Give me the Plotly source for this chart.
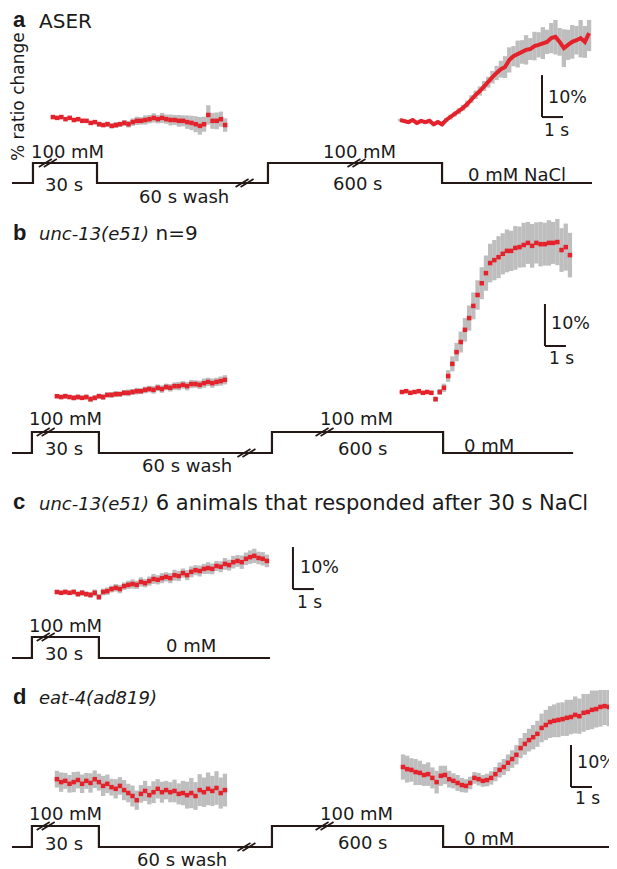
import numpy as np
import plotly.graph_objects as go

# ---------------- data ----------------
DT = 0.2  # s between samples

# panel a (ASER)
a_left_start = 2.52
a_left_val = [0.7, 0.5, 0.7, 0.2, 0.5, 0.0, 0.2, -0.2, -0.2, -0.7, -0.5, -1.0, -1.2, -1.0,
              -1.4, -1.2, -1.0, -0.7, -1.0, -0.5, -0.2, -0.2, 0.0, 0.2, 0.5, 0.2, 0.5, 0.2,
              0.0, 0.0, -0.2, -0.2, -0.5, -0.7, -1.0, -1.4, -1.0, 1.2, -0.2, -0.2, 0.2, -1.2]
a_left_err = [0.4, 0.4, 0.4, 0.4, 0.5, 0.4, 0.5, 0.5, 0.4, 0.5, 0.5, 0.6, 0.5, 0.6,
              0.6, 0.7, 0.6, 0.7, 0.8, 0.9, 1.0, 0.9, 1.1, 1.0, 1.1, 1.0, 1.2, 1.1,
              1.3, 1.2, 1.4, 1.3, 1.6, 1.7, 1.9, 2.1, 1.8, 2.3, 1.9, 2.0, 1.8, 1.6]
a_right_start = 19.05
a_right_val = [0.0, -0.2, -0.5, 0.0, -0.7, -0.2, -0.5, -0.2, -1.0, -0.5, -1.0, 0.0, 0.7, 1.4,
               2.1, 2.9, 3.8, 5.0, 6.0, 6.9, 8.1, 9.0, 10.2, 11.2, 12.1, 12.6, 14.3, 15.2,
               15.7, 16.2, 16.7, 16.9, 17.6, 17.9, 18.3, 18.6, 19.5, 19.8, 18.6, 17.1, 17.9,
               18.6, 19.0, 19.5, 18.6, 20.7]
a_right_err = [0.3, 0.3, 0.4, 0.3, 0.4, 0.3, 0.4, 0.4, 0.5, 0.4, 0.5, 0.5, 0.6, 0.6,
               0.7, 0.7, 0.8, 0.9, 1.0, 1.1, 1.2, 1.3, 1.5, 1.7, 2.0, 2.6, 3.0, 2.4,
               3.2, 2.8, 3.5, 2.6, 3.4, 3.0, 3.8, 2.9, 3.6, 4.2, 3.3, 4.5, 3.6, 4.0,
               3.4, 4.6, 3.8, 4.3]

# panel b (unc-13(e51) n=9)
b_left_start = 2.71
b_left_val = [-1.0, -1.2, -1.0, -1.2, -1.4, -1.2, -1.4, -1.2, -1.7, -1.4, -1.0, -1.2, -0.7,
              -0.7, -0.5, -0.5, -0.2, -0.2, 0.0, 0.2, 0.2, 0.5, 0.7, 0.5, 1.0, 0.7, 1.2, 1.0,
              1.4, 1.4, 1.7, 1.4, 1.9, 1.9, 1.7, 2.1, 2.4, 2.1, 2.4, 2.6, 2.9]
b_left_err = [0.5, 0.5, 0.6, 0.5, 0.6, 0.6, 0.5, 0.6, 0.7, 0.6, 0.6, 0.7, 0.6, 0.7, 0.7,
              0.6, 0.7, 0.8, 0.7, 0.8, 0.7, 0.8, 0.8, 0.9, 0.8, 0.9, 0.8, 0.9, 0.9, 1.0,
              0.9, 1.0, 1.0, 0.9, 1.0, 1.1, 1.0, 1.1, 1.0, 1.1, 1.1]
b_right_start = 19.14
b_right_val = [0.0, 0.2, -0.2, 0.0, 0.2, -0.2, 0.0, -0.2, -1.7, 0.0, 1.0, 3.8, 6.7, 9.5,
               11.9, 14.8, 17.6, 20.5, 23.1, 25.9, 28.3, 30.7, 31.4, 32.1, 32.9, 33.6, 33.6,
               34.3, 34.5, 35.0, 35.5, 34.8, 35.5, 35.2, 35.2, 35.5, 35.5, 35.7, 33.8, 34.5,
               32.6]
b_right_err = [0.4, 0.4, 0.5, 0.4, 0.5, 0.4, 0.5, 0.5, 0.6, 0.7, 1.0, 1.4, 1.8, 2.2, 2.5,
               2.8, 3.0, 3.2, 3.5, 3.8, 4.2, 4.6, 4.8, 5.0, 4.9, 5.1, 4.8, 5.2, 4.9, 5.3,
               5.0, 5.2, 4.9, 5.3, 5.1, 5.4, 5.0, 5.5, 5.2, 5.6, 5.3]

# panel c (unc-13(e51), 6 responders)
c_start = 2.71
c_val = [0.0, -0.2, 0.0, -0.2, 0.0, -0.5, -0.2, -0.5, -0.7, -0.2, -1.2, 0.0, 0.2, 0.7, 1.0,
         0.7, 1.4, 1.7, 1.9, 1.7, 2.4, 2.1, 2.6, 3.1, 2.9, 3.3, 3.6, 3.3, 4.0, 3.8, 4.5, 4.0,
         4.8, 5.2, 5.0, 5.5, 5.7, 5.5, 6.2, 6.0, 6.7, 6.4, 7.1, 7.4, 7.1, 7.9, 8.3, 8.6, 8.1,
         7.9, 7.4]
c_err = [0.5, 0.5, 0.6, 0.5, 0.6, 0.6, 0.7, 0.6, 0.7, 0.8, 0.7, 0.8, 0.9, 0.8, 0.9, 1.0,
         0.9, 1.0, 1.1, 1.0, 1.1, 1.0, 1.1, 1.2, 1.1, 1.2, 1.1, 1.2, 1.3, 1.2, 1.1, 1.2,
         1.3, 1.2, 1.3, 1.2, 1.4, 1.3, 1.2, 1.3, 1.4, 1.3, 1.5, 1.4, 1.6, 1.5, 1.6, 1.7,
         1.5, 1.6, 1.5]

# panel d (eat-4(ad819))
d_left_start = 2.71
d_left_val = [-2.9, -3.6, -3.3, -4.0, -3.6, -3.1, -4.0, -3.3, -3.8, -2.9, -3.6, -4.5, -4.0,
              -4.8, -5.2, -4.5, -5.5, -6.2, -6.9, -7.9, -6.4, -5.7, -6.7, -6.0, -5.2, -6.0,
              -5.5, -6.0, -5.7, -6.4, -6.2, -6.7, -6.2, -6.9, -5.5, -6.0, -5.2, -5.7, -5.0,
              -6.2, -5.5]
d_left_err = [2.0, 2.3, 1.9, 2.1, 2.4, 2.0, 2.2, 1.9, 2.3, 2.1, 2.0, 2.4, 2.2, 2.0, 2.3,
              2.1, 2.4, 2.2, 2.5, 2.3, 2.1, 2.4, 2.2, 2.6, 2.3, 2.5, 2.2, 2.4, 2.7, 2.5,
              2.9, 3.2, 3.6, 3.3, 3.8, 3.5, 3.9, 3.6, 4.0, 3.7, 3.9]
d_right_start = 19.19
d_right_val = [0.0, -0.5, -0.7, -1.2, -1.4, -1.9, -1.7, -2.6, -3.6, -2.1, -1.9, -2.9, -3.3,
               -3.8, -4.3, -4.5, -3.8, -2.6, -2.9, -3.3, -3.1, -2.6, -1.7, -0.7, 0.0, 1.0,
               1.9, 2.9, 4.5, 5.5, 6.4, 7.1, 7.9, 9.3, 10.0, 10.7, 11.0, 11.2, 11.4, 11.7,
               11.9, 12.4, 12.1, 12.9, 13.1, 13.6, 13.8, 14.3, 14.5, 14.3, 14.0]
d_right_err = [3.0, 3.2, 2.8, 3.1, 2.9, 2.6, 2.8, 2.5, 2.7, 2.4, 2.2, 2.0, 1.8, 1.9, 1.7,
               1.6, 1.5, 1.4, 1.5, 1.4, 1.5, 1.6, 1.7, 1.8, 1.9, 2.0, 2.1, 2.3, 2.4, 2.6,
               2.7, 2.9, 3.1, 3.4, 3.6, 3.8, 3.9, 4.1, 4.0, 4.3, 4.1, 4.4, 4.2, 4.5, 4.3,
               4.6, 4.4, 4.7, 4.5, 4.6, 4.4]

# stimulus schedules (schematic time in s, NaCl in mM)
stim_a_t = [0.57, 1.57, 1.57, 4.62, 4.62, 12.76, 12.76, 21.05, 21.05, 28.19]
stim_a_c = [0, 0, 100, 100, 0, 0, 100, 100, 0, 0]
stim_b_t = [0.57, 1.52, 1.52, 4.71, 4.71, 12.95, 12.95, 21.10, 21.10, 27.29]
stim_b_c = [0, 0, 100, 100, 0, 0, 100, 100, 0, 0]
stim_c_t = [0.57, 1.52, 1.52, 4.71, 4.71, 12.86]
stim_c_c = [0, 0, 100, 100, 0, 0]
stim_d_t = [0.57, 1.52, 1.52, 4.71, 4.71, 12.95, 12.95, 21.10, 21.10, 29.29]
stim_d_c = [0, 0, 100, 100, 0, 0, 100, 100, 0, 0]

# ---------------- layout helpers ----------------
PAGE_W, PAGE_H = 617, 869
OFF = 8                     # default body margin of the html page
W, H = PAGE_W - OFF, PAGE_H - OFF
PX_PER_S = 21.0
PX_PER_PCT = 4.2
RED = "#e3222b"
GRAY = "#bebebe"
DARK = "#231815"
FONT = "DejaVu Sans, Arial, sans-serif"
BFONT = "Arial, Liberation Sans, sans-serif"


def tgrid(start, n):
    return start + DT * np.arange(n)


def ydom(top_px, bot_px):
    # screen pixel rows -> paper fraction
    return [1 - (bot_px - OFF) / H, 1 - (top_px - OFF) / H]


def pct_range(ref_px, top_px, bot_px):
    return [(ref_px - bot_px) / PX_PER_PCT, (ref_px - top_px) / PX_PER_PCT]


def stim_axis(base_px, high_px, pad=10):
    k = 100.0 / (base_px - high_px)
    return dict(domain=ydom(high_px - pad, base_px + pad), range=[-pad * k, 100 + pad * k])


fig = go.Figure()


def add_trace(t, v, e, yax, mode="markers"):
    fig.add_trace(go.Scatter(
        x=t, y=v, xaxis="x", yaxis=yax, mode=mode,
        marker=dict(symbol="square", size=4.5, color=RED),
        line=dict(color=RED, width=4),
        error_y=dict(type="data", array=e, color=GRAY, thickness=4.3, width=0),
        showlegend=False, cliponaxis=False, hoverinfo="skip"))


def add_stim(t, c, yax):
    fig.add_trace(go.Scatter(
        x=t, y=c, xaxis="x", yaxis=yax, mode="lines",
        line=dict(color=DARK, width=2.2), showlegend=False,
        cliponaxis=False, hoverinfo="skip"))


add_trace(tgrid(a_left_start, len(a_left_val)), a_left_val, a_left_err, "y")
add_trace(tgrid(a_right_start, len(a_right_val)), a_right_val, a_right_err, "y", mode="lines")
add_stim(stim_a_t, stim_a_c, "y2")
add_trace(tgrid(b_left_start, len(b_left_val)), b_left_val, b_left_err, "y3")
add_trace(tgrid(b_right_start, len(b_right_val)), b_right_val, b_right_err, "y3")
add_stim(stim_b_t, stim_b_c, "y4")
add_trace(tgrid(c_start, len(c_val)), c_val, c_err, "y5")
add_stim(stim_c_t, stim_c_c, "y6")
add_trace(tgrid(d_left_start, len(d_left_val)), d_left_val, d_left_err, "y7")
add_trace(tgrid(d_right_start, len(d_right_val)), d_right_val, d_right_err, "y7")
add_stim(stim_d_t, stim_d_c, "y8")

hidden = dict(visible=False, fixedrange=True)
x0 = OFF / PX_PER_S
layout = dict(
    width=W, height=H, margin=dict(l=0, r=0, t=0, b=0),
    paper_bgcolor="white", plot_bgcolor="rgba(0,0,0,0)",
    xaxis=dict(range=[x0, x0 + W / PX_PER_S], domain=[0, 1], **hidden),
    yaxis=dict(domain=ydom(20, 150), range=pct_range(120, 20, 150), anchor="x", **hidden),
    yaxis2=dict(anchor="x", **stim_axis(183, 163), **hidden),
    yaxis3=dict(domain=ydom(215, 410), range=pct_range(392, 215, 410), anchor="x", **hidden),
    yaxis4=dict(anchor="x", **stim_axis(453, 432), **hidden),
    yaxis5=dict(domain=ydom(520, 610), range=pct_range(592, 520, 610), anchor="x", **hidden),
    yaxis6=dict(anchor="x", **stim_axis(658, 637), **hidden),
    yaxis7=dict(domain=ydom(690, 830), range=pct_range(767, 690, 830), anchor="x", **hidden),
    yaxis8=dict(anchor="x", **stim_axis(847, 826), **hidden),
)
fig.update_layout(**layout)

# scale bars (10 % and 1 s) drawn in data units of each panel
shapes = []
for yref, t0, v0 in [("y", 25.81, 0.7), ("y3", 25.95, 10.95), ("y5", 13.95, 0.7), ("y7", 27.19, -4.76)]:
    shapes.append(dict(type="line", xref="x", yref=yref, x0=t0, x1=t0, y0=v0, y1=v0 + 10,
                       line=dict(color=DARK, width=2)))
    shapes.append(dict(type="line", xref="x", yref=yref, x0=t0, x1=t0 + 1, y0=v0, y1=v0,
                       line=dict(color=DARK, width=2)))

# break marks "//" on the stimulus lines
for yref, t, c in [("y2", 2.30, 100), ("y2", 11.67, 0), ("y2", 17.0, 100),
                   ("y4", 2.20, 100), ("y4", 11.76, 0), ("y4", 15.48, 100),
                   ("y6", 2.20, 100),
                   ("y8", 2.20, 100), ("y8", 11.76, 0), ("y8", 15.48, 100)]:
    for off in (-2.5, 2.5):
        shapes.append(dict(type="line", xref="x", yref=yref, xsizemode="pixel", ysizemode="pixel",
                           xanchor=t, yanchor=c, x0=-7 + off, x1=6 + off, y0=-4, y1=4,
                           line=dict(color=DARK, width=1.7)))
fig.update_layout(shapes=shapes)


def ann(text, x, y, size=18, xanchor="center", angle=0, family=FONT):
    fig.add_annotation(text=text, x=(x - OFF) / W, y=1 - (y - OFF) / H, xref="paper", yref="paper",
                       showarrow=False, xanchor=xanchor, yanchor="middle", textangle=angle,
                       font=dict(family=family, size=size, color="#1a1a1a"))


ITAL = '<span style="font-size:18px"><i>{}</i></span>'

# panel labels & titles
ann("<b>a</b>", 11, 20, size=22, xanchor="left", family=BFONT)
ann("ASER", 37, 21, size=20, xanchor="left")
ann("<b>b</b>", 11, 232, size=22, xanchor="left", family=BFONT)
ann(ITAL.format("unc-13(e51)") + " n=9", 37, 233, size=20, xanchor="left")
ann("<b>c</b>", 11, 502, size=22, xanchor="left", family=BFONT)
ann(ITAL.format("unc-13(e51)") + " 6 animals that responded after 30 s NaCl", 37, 503,
    size=21, xanchor="left")
ann("<b>d</b>", 11, 696, size=22, xanchor="left", family=BFONT)
ann(ITAL.format("eat-4(ad819)"), 37, 697, size=19, xanchor="left")
ann("% ratio change", 18, 97, size=17, angle=-90)

# stimulus labels
for (txt, x, y) in [("100 mM", 67, 152), ("30 s", 64, 184), ("60 s wash", 184, 197),
                    ("100 mM", 359, 152), ("600 s", 357, 183), ("0 mM NaCl", 517, 175),
                    ("100 mM", 65, 418), ("30 s", 64, 448), ("60 s wash", 187, 466),
                    ("100 mM", 356, 418), ("600 s", 362, 448), ("0 mM", 489, 445),
                    ("100 mM", 65, 625), ("30 s", 64, 653), ("0 mM", 191, 645),
                    ("100 mM", 65, 813), ("30 s", 64, 843), ("60 s wash", 182, 859),
                    ("100 mM", 356, 813), ("600 s", 362, 842), ("0 mM", 489, 838)]:
    ann(txt, x, y)

# scale-bar labels
for (x, y10, x1, y1) in [(546, 97, 556, 130), (549, 323, 561, 358), (298, 567, 309, 602),
                         (575, 762, 587, 798)]:
    ann("10%", x, y10, size=17.5, xanchor="left")
    ann("1 s", x1, y1, size=17)

fig.write_html("out.html")
